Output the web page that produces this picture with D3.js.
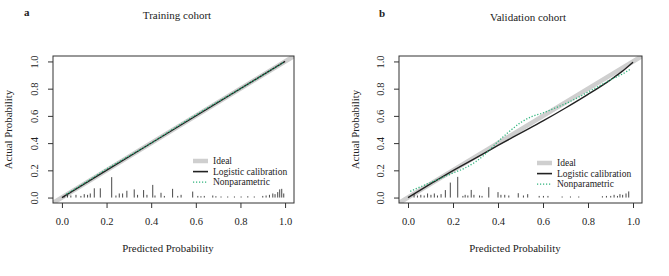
<!DOCTYPE html>
<html>
<head>
<meta charset="utf-8">
<script src="https://cdn.jsdelivr.net/npm/d3@7"></script>
<style>
  body { margin: 0; background: #fff; }
  svg text { font-family: "Liberation Serif", "Times New Roman", serif; fill: #222; }
</style>
</head>
<body>
<svg id="chart" width="669" height="276"></svg>
<script>
// tick values shared by both panels
const ticks = [0, 0.2, 0.4, 0.6, 0.8, 1.0];

// Training cohort (panel a)
const trainLogistic = [[0, 0], [0.5, 0.5], [1, 1]];
const trainNonpar = [[0.02, 0.025], [0.1, 0.105], [0.2, 0.21], [0.3, 0.305], [0.4, 0.4],
  [0.5, 0.506], [0.6, 0.607], [0.7, 0.705], [0.8, 0.8], [0.9, 0.9], [0.99, 0.99]];
// spike histogram: [predicted, height]
const trainSpikes = [[0.01, 0.012], [0.025, 0.02], [0.04, 0.015], [0.063, 0.02], [0.085, 0.012],
  [0.10, 0.025], [0.115, 0.02], [0.127, 0.03], [0.145, 0.068], [0.172, 0.068], [0.223, 0.15],
  [0.242, 0.015], [0.257, 0.03], [0.272, 0.03], [0.291, 0.05], [0.324, 0.06], [0.339, 0.02],
  [0.366, 0.055], [0.381, 0.02], [0.407, 0.093], [0.417, 0.015], [0.444, 0.035], [0.459, 0.012],
  [0.496, 0.064], [0.519, 0.012], [0.534, 0.02], [0.586, 0.044], [0.609, 0.012], [0.623, 0.01],
  [0.638, 0.012], [0.676, 0.015], [0.69, 0.01], [0.713, 0.008], [0.743, 0.008], [0.773, 0.008],
  [0.803, 0.008], [0.833, 0.01], [0.862, 0.008], [0.9, 0.012], [0.915, 0.015], [0.93, 0.02],
  [0.945, 0.03], [0.955, 0.025], [0.967, 0.04], [0.976, 0.06], [0.985, 0.064], [0.994, 0.03]];

// Validation cohort (panel b)
const validLogistic = [[0, 0], [0.1, 0.1], [0.2, 0.198], [0.3, 0.29], [0.4, 0.383], [0.5, 0.473],
  [0.6, 0.563], [0.7, 0.658], [0.8, 0.758], [0.9, 0.865], [0.95, 0.925], [1.0, 0.995]];
const validNonpar = [[0.01, 0.045], [0.05, 0.075], [0.1, 0.11], [0.15, 0.145], [0.2, 0.18],
  [0.25, 0.215], [0.3, 0.262], [0.35, 0.33], [0.4, 0.412], [0.45, 0.485], [0.5, 0.55],
  [0.55, 0.595], [0.6, 0.622], [0.65, 0.655], [0.7, 0.69], [0.75, 0.73], [0.8, 0.775],
  [0.85, 0.82], [0.9, 0.865], [0.95, 0.905], [0.99, 0.945]];
const validSpikes = [[0.027, 0.025], [0.042, 0.015], [0.057, 0.02], [0.072, 0.015], [0.087, 0.03],
  [0.102, 0.02], [0.117, 0.03], [0.131, 0.015], [0.147, 0.025], [0.166, 0.055], [0.188, 0.11],
  [0.221, 0.152], [0.244, 0.012], [0.254, 0.02], [0.266, 0.015], [0.281, 0.056], [0.293, 0.02],
  [0.318, 0.015], [0.329, 0.012], [0.359, 0.076], [0.40, 0.04], [0.413, 0.02], [0.43, 0.02],
  [0.448, 0.015], [0.49, 0.032], [0.513, 0.015], [0.532, 0.025], [0.583, 0.012], [0.602, 0.012],
  [0.622, 0.012], [0.685, 0.008], [0.722, 0.008], [0.759, 0.008], [0.864, 0.01], [0.882, 0.012],
  [0.901, 0.012], [0.916, 0.02], [0.931, 0.012], [0.942, 0.025], [0.954, 0.02], [0.969, 0.03], [0.981, 0.045]];

const legendLabels = ["Ideal", "Logistic calibration", "Nonparametric"];
const green = "#2fb37c";

const svg = d3.select("#chart");

function drawPanel(cfg) {
  const x = d3.scaleLinear().domain([-0.04, 1.04]).range([cfg.left, cfg.right]);
  const y = d3.scaleLinear().domain([-0.04, 1.04]).range([cfg.bottom, cfg.top]);
  const g = svg.append("g");

  g.append("clipPath").attr("id", "clip" + cfg.id)
    .append("rect")
    .attr("x", cfg.left).attr("y", cfg.top)
    .attr("width", cfg.right - cfg.left).attr("height", cfg.bottom - cfg.top);

  const plot = g.append("g").attr("clip-path", "url(#clip" + cfg.id + ")");
  const line = d3.line().x(d => x(d[0])).y(d => y(d[1]));

  // ideal diagonal
  plot.append("path")
    .datum([[-0.04, -0.04], [1.04, 1.04]])
    .attr("d", line)
    .attr("fill", "none").attr("stroke", "#cfcfcf").attr("stroke-width", 4.5);

  // spikes
  plot.selectAll(".spike").data(cfg.spikes).enter().append("line")
    .attr("x1", d => x(d[0])).attr("x2", d => x(d[0]))
    .attr("y1", y(0)).attr("y2", d => y(d[1]))
    .attr("stroke", "#333").attr("stroke-width", 0.9);

  // logistic calibration
  plot.append("path")
    .datum(cfg.logistic)
    .attr("d", line.curve(d3.curveMonotoneX))
    .attr("fill", "none").attr("stroke", "#222").attr("stroke-width", 1.4);

  // nonparametric
  plot.append("path")
    .datum(cfg.nonpar)
    .attr("d", line.curve(d3.curveMonotoneX))
    .attr("fill", "none").attr("stroke", green).attr("stroke-width", 1.3)
    .attr("stroke-dasharray", "1.2,1.8");

  // box
  g.append("rect")
    .attr("x", cfg.left).attr("y", cfg.top)
    .attr("width", cfg.right - cfg.left).attr("height", cfg.bottom - cfg.top)
    .attr("fill", "none").attr("stroke", "#333").attr("stroke-width", 1);

  // axes
  const xAxis = g.append("g")
    .attr("transform", "translate(0," + cfg.bottom + ")")
    .call(d3.axisBottom(x).tickValues(ticks).tickFormat(d3.format(".1f")).tickSize(5).tickPadding(10));
  const yAxis = g.append("g")
    .attr("transform", "translate(" + cfg.left + ",0)")
    .call(d3.axisLeft(y).tickValues(ticks).tickFormat(d3.format(".1f")).tickSize(5).tickPadding(10));
  [xAxis, yAxis].forEach(a => {
    a.select(".domain").remove();
    a.selectAll("line").attr("stroke", "#333");
    a.selectAll("text").attr("font-family", null).style("font-size", "10.5px").attr("fill", "#222");
  });
  // rotate y tick labels like R's default las=0
  yAxis.selectAll(".tick text")
    .attr("x", null).attr("dy", null)
    .attr("text-anchor", "middle")
    .attr("transform", "translate(-19,0) rotate(-90)")
    .attr("y", 0).attr("dy", "0.35em");

  // titles
  g.append("text").attr("x", cfg.labelX).attr("y", cfg.labelY)
    .attr("font-weight", "bold").style("font-size", "11px").text(cfg.letter);
  g.append("text").attr("x", cfg.titleX).attr("y", cfg.titleY)
    .attr("text-anchor", "middle").style("font-size", "11px").text(cfg.title);
  g.append("text").attr("x", cfg.xlabX).attr("y", 252)
    .attr("text-anchor", "middle").style("font-size", "10.8px").text("Predicted Probability");
  g.append("text")
    .attr("transform", "translate(" + cfg.ylabX + "," + ((cfg.top + cfg.bottom) / 2) + ") rotate(-90)")
    .attr("text-anchor", "middle").style("font-size", "10.8px").text("Actual Probability");

  // legend
  const lg = g.append("g").attr("transform", "translate(" + cfg.legX + "," + cfg.legY + ")");
  const styles = [
    { stroke: "#cfcfcf", width: 4.5, dash: null },
    { stroke: "#222", width: 1.6, dash: null },
    { stroke: green, width: 1.3, dash: "1.2,1.8" }
  ];
  legendLabels.forEach((lab, i) => {
    const yy = i * 10.6;
    lg.append("line").attr("x1", 0).attr("x2", 15).attr("y1", yy).attr("y2", yy)
      .attr("stroke", styles[i].stroke).attr("stroke-width", styles[i].width)
      .attr("stroke-dasharray", styles[i].dash);
    lg.append("text").attr("x", 20).attr("y", yy).attr("dy", "0.33em")
      .style("font-size", "9.5px").text(lab);
  });
}

drawPanel({ id: "a", left: 53, right: 294, top: 56, bottom: 203,
  logistic: trainLogistic, nonpar: trainNonpar, spikes: trainSpikes,
  letter: "a", labelX: 24, labelY: 16, title: "Training cohort", titleX: 177, titleY: 19,
  xlabX: 168, ylabX: 12, legX: 193, legY: 161 });

drawPanel({ id: "b", left: 399, right: 642, top: 56, bottom: 203,
  logistic: validLogistic, nonpar: validNonpar, spikes: validSpikes,
  letter: "b", labelX: 379, labelY: 17, title: "Validation cohort", titleX: 528, titleY: 21,
  xlabX: 515, ylabX: 359, legX: 537, legY: 163 });
</script>
</body>
</html>
